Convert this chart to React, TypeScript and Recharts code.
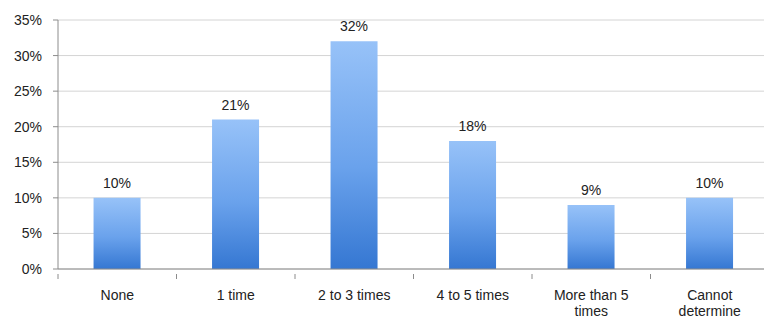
import { BarChart, Bar, XAxis, YAxis, CartesianGrid, LabelList } from 'recharts'

const categories = ['None', '1 time', '2 to 3 times', '4 to 5 times', 'More than 5 times', 'Cannot determine']
const categoryLines = [['None'], ['1 time'], ['2 to 3 times'], ['4 to 5 times'], ['More than 5', 'times'], ['Cannot', 'determine']]
const shares = [10, 21, 32, 18, 9, 10]
const yTicks = [0, 5, 10, 15, 20, 25, 30, 35]

const data = categories.map((name, i) => ({ name, lines: categoryLines[i], value: shares[i] }))

const FONT = '"Liberation Sans", Arial, sans-serif'
const CHART_W = 770
const PLOT_LEFT = 58
const BAND = (CHART_W - PLOT_LEFT - 1) / categories.length

function CategoryTick({ x, y, payload, index }: { x?: number; y?: number; payload?: { value: string }; index?: number }) {
  if (x == null || y == null || !payload) return null
  const entry = data.find((d) => d.name === payload.value)
  const lines = entry ? entry.lines : [payload.value]
  const axisY = y - 3
  return (
    <g>
      <line x1={x - BAND / 2} x2={x - BAND / 2} y1={axisY} y2={axisY + 5} stroke="#8c8c8c" />
      {index === categories.length - 1 && (
        <line x1={x + BAND / 2} x2={x + BAND / 2} y1={axisY} y2={axisY + 5} stroke="#8c8c8c" />
      )}
      <text x={x} y={axisY + 26} textAnchor="middle" fontSize={14} fill="#222" fontFamily={FONT}>
        {lines.map((l, i) => (
          <tspan key={i} x={x} dy={i === 0 ? 0 : 16}>
            {l}
          </tspan>
        ))}
      </text>
    </g>
  )
}

export default function App() {
  return (
    <div style={{ position: 'absolute', left: 0, top: 0, width: 764, height: 322, overflow: 'hidden', background: '#fff' }}>
      <BarChart
        width={CHART_W}
        height={322}
        data={data}
        margin={{ top: 20, right: 1, left: 0, bottom: 0 }}
        barCategoryGap="30%"
      >
        <defs>
          <linearGradient id="barFill" x1="0" y1="0" x2="0" y2="1">
            <stop offset="0%" stopColor="#97c2f8" />
            <stop offset="55%" stopColor="#6aa2ec" />
            <stop offset="100%" stopColor="#3577d2" />
          </linearGradient>
        </defs>
        <CartesianGrid vertical={false} stroke="#d4d4d4" />
        <XAxis
          dataKey="name"
          height={53}
          interval={0}
          tickLine={false}
          axisLine={{ stroke: '#8c8c8c' }}
          tick={<CategoryTick />}
        />
        <YAxis
          width={PLOT_LEFT}
          domain={[0, 35]}
          ticks={yTicks}
          interval={0}
          tickFormatter={(v) => `${v}%`}
          tickSize={5}
          tickMargin={11}
          tickLine={{ stroke: '#8c8c8c' }}
          axisLine={{ stroke: '#8c8c8c' }}
          tick={{ fontSize: 14, fill: '#222', fontFamily: FONT }}
        />
        <Bar dataKey="value" fill="url(#barFill)" isAnimationActive={false}>
          <LabelList
            dataKey="value"
            position="top"
            offset={10}
            formatter={(v: number) => `${v}%`}
            style={{ fontSize: 14, fill: '#222', fontFamily: FONT }}
          />
        </Bar>
      </BarChart>
    </div>
  )
}
